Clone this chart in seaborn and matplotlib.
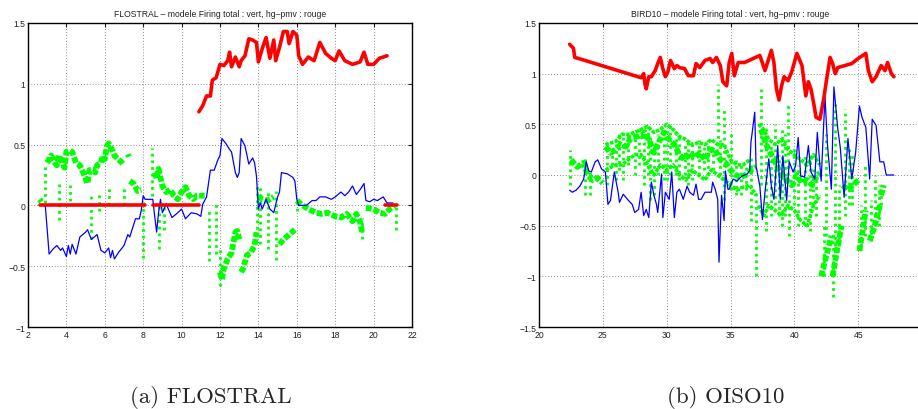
import numpy as np
import pandas as pd
import matplotlib
matplotlib.use("Agg")
import matplotlib.pyplot as plt
import seaborn as sns

nan = np.nan

# ---------------- Panel (a) FLOSTRAL ----------------
TITLE_A = "FLOSTRAL \u2013 modele Firing total : vert, hg\u2013pmv : rouge"
CAPTION_A = "(a) FLOSTRAL"
XTICKS_A = [2, 4, 6, 8, 10, 12, 14, 16, 18, 20, 22]
YTICKS_A = [-1, -0.5, 0, 0.5, 1, 1.5]

RED_A_X = [2.6, 8.1, nan, 8.5, 10.9, nan,
           10.9, 11.1, 11.3, 11.5, 11.6, 11.8, 12.0, 12.2, 12.4, 12.5, 12.6, 12.8,
           13.0, 13.1, 13.3, 13.5, 13.7, 13.9, 14.0, 14.2, 14.4, 14.6, 14.8, 14.9,
           15.1, 15.3, 15.5, 15.6, 15.8, 16.0, 16.1, 16.3, 16.6, 16.9, 17.2, 17.5,
           17.8, 18.0, 18.2, 18.5, 18.9, 19.3, 19.5, 19.7, 20.0, 20.3, 20.7, nan,
           20.6, 21.2]
RED_A_Y = [0.0, 0.0, nan, 0.0, 0.0, nan,
           0.77, 0.82, 0.90, 0.90, 1.03, 1.05, 1.16, 1.15, 1.19, 1.26, 1.14, 1.22,
           1.14, 1.19, 1.23, 1.37, 1.36, 1.34, 1.18, 1.29, 1.38, 1.21, 1.36, 1.19,
           1.30, 1.43, 1.43, 1.33, 1.43, 1.40, 1.23, 1.16, 1.22, 1.19, 1.34, 1.25,
           1.21, 1.19, 1.27, 1.19, 1.16, 1.18, 1.26, 1.16, 1.16, 1.21, 1.23, nan,
           0.0, 0.0]

BLUE_A_X = [2.6, 2.9, 3.1, 3.3, 3.5, 3.7, 3.8, 4.0, 4.1, 4.2, 4.3, 4.5, 4.7, 5.0,
            5.1, 5.3, 5.6, 5.8, 6.0, 6.2, 6.3, 6.4, 6.5, 6.7, 7.0, 7.2, 7.3, 7.6,
            7.8, 7.9, 8.0, 8.1, 8.5, 8.6, 8.7, 8.8, 8.9, 9.0, 9.2, 9.5, 9.8, 10.0,
            10.2, 10.5, 10.8, 11.0, 11.1, 11.3, 11.5, 11.7, 11.9, 12.0, 12.1, 12.3,
            12.5, 12.6, 12.8, 12.9, 13.0, 13.1, 13.3, 13.5, 13.7, 13.8, 13.9, 14.0,
            14.1, 14.2, 14.4, 14.6, 14.8, 15.0, 15.1, 15.2, 15.5, 15.8, 15.9, 16.0,
            16.1, 16.5, 16.8, 17.0, 17.2, 17.5, 17.8, 18.0, 18.3, 18.5, 18.7, 18.9,
            19.1, 19.3, 19.5, 19.6, 19.8, 20.0, 20.2, 20.5, 20.7, 21.0]
BLUE_A_Y = [0.0, 0.0, -0.40, -0.36, -0.33, -0.37, -0.35, -0.42, -0.33, -0.40,
            -0.32, -0.40, -0.26, -0.22, -0.20, -0.28, -0.24, -0.37, -0.39, -0.35,
            -0.43, -0.37, -0.44, -0.39, -0.33, -0.24, -0.26, -0.11, -0.11, -0.04,
            0.08, 0.05, 0.05, -0.09, -0.22, -0.06, 0.05, -0.06, 0.01, -0.10, -0.06,
            -0.03, -0.11, -0.06, -0.07, -0.09, 0.01, 0.07, 0.29, 0.29, 0.38, 0.41,
            0.55, 0.51, 0.46, 0.44, 0.27, 0.23, 0.27, 0.55, 0.49, 0.34, 0.39, 0.35,
            0.24, -0.03, 0.02, -0.03, 0.05, -0.03, -0.06, 0.07, 0.11, 0.27, 0.26,
            0.23, 0.20, 0.05, 0.00, 0.00, 0.04, 0.04, 0.07, 0.07, 0.05, 0.07, 0.11,
            0.08, 0.11, 0.16, 0.09, 0.13, 0.18, 0.04, 0.03, 0.05, 0.04, 0.07, 0.02,
            0.02]

GREEN_A_X = [2.6, 2.7, nan, 3.0, 3.2, 3.4, 3.5, 3.6, 3.8, 3.9, 4.0, 4.2, 4.3, 4.5,
             4.7, 4.9, 5.0, 5.1, 5.2, 5.4, 5.5, 5.6, 5.8, 5.9, 6.0, 6.1, 6.2, 6.4,
             6.5, 6.7, 6.9, 7.0, nan, 7.2, 7.25, nan, 7.3, 7.5, 7.7, 7.9, nan,
             8.6, 8.7, 8.8, 9.0, 9.2, 9.4, 9.6, 9.8, 10.0, 10.2, 10.4, 10.6, 10.8,
             11.0, 11.2, nan, 12.0, 12.1, 12.2, 12.4, 12.6, 12.8, 12.9, 13.0, nan,
             13.1, 13.2, 13.4, 13.6, 13.8, 13.9, nan, 14.0, 14.2, 14.4, 14.6, 14.8,
             nan, 15.1, 15.3, 15.6, 15.9, nan, 16.0, 16.3, 16.6, 17.0, 17.3, 17.6,
             18.0, 18.3, 18.6, 18.9, 19.1, 19.3, 19.4, nan, 19.6, 20.0, 20.3, 20.6,
             20.9, 21.1]
GREEN_A_Y = [0.05, 0.03, nan, 0.35, 0.41, 0.35, 0.33, 0.41, 0.35, 0.31, 0.44, 0.45,
             0.44, 0.35, 0.33, 0.26, 0.22, 0.18, 0.29, 0.29, 0.27, 0.33, 0.35, 0.41,
             0.38, 0.48, 0.51, 0.45, 0.41, 0.38, 0.35, 0.33, nan, 0.42, 0.40, nan,
             0.20, 0.18, 0.12, 0.13, nan,
             0.27, 0.22, 0.30, 0.16, 0.11, 0.13, 0.08, 0.05, 0.11, 0.15, 0.08, 0.05,
             0.08, 0.08, 0.08, nan, -0.55, -0.61, -0.52, -0.44, -0.39, -0.22, -0.21,
             -0.28, nan, -0.55, -0.52, -0.41, -0.39, -0.33, -0.22, nan, 0.08, 0.05,
             0.04, 0.05, 0.07, nan, -0.32, -0.28, -0.24, -0.20, nan, 0.04, 0.00,
             -0.03, -0.06, -0.07, -0.06, -0.09, -0.10, -0.07, -0.13, -0.07, -0.14,
             -0.22, nan, -0.02, -0.03, -0.06, -0.07, -0.02, 0.00]

# vertical streaks of green points: x, low, high
STREAK_A_X = [2.9, 3.6, 4.2, 5.3, 5.7, 6.2, 7.0, 8.0, 8.45, 8.8, 9.1, 11.45, 11.8,
              12.0, 13.95, 14.1, 14.5, 14.9, 16.0, 19.4, 21.15]
STREAK_A_LO = [0.02, -0.12, 0.04, -0.28, -0.05, 0.0, 0.0, -0.43, 0.08, -0.36, -0.2,
               -0.46, -0.4, -0.66, -0.25, -0.32, -0.36, -0.45, -0.05, -0.28, -0.2]
STREAK_A_HI = [0.33, 0.18, 0.17, 0.10, 0.10, 0.15, 0.16, 0.05, 0.47, 0.0, 0.0,
               -0.02, 0.02, -0.35, 0.15, 0.16, 0.12, 0.12, 0.06, -0.1, 0.0]

# ---------------- Panel (b) OISO10 ----------------
TITLE_B = "BIRD10 \u2013 modele Firing total : vert, hg\u2013pmv : rouge"
CAPTION_B = "(b) OISO10"
XTICKS_B = [20, 25, 30, 35, 40, 45, 50]
YTICKS_B = [-1.5, -1, -0.5, 0, 0.5, 1, 1.5]

RED_B_X = [22.4, 22.7, 22.8, 23.1, 28.0, 28.2, 28.3, 28.4, 28.6, 28.8, 29.1, 29.3,
           29.5, 29.7, 29.9, 30.1, 30.3, 30.6, 30.8, 31.0, 31.4, 31.7, 32.1, 32.3,
           32.6, 33.0, 33.4, 33.6, 33.9, 34.2, 34.4, 34.7, 34.9, 35.1, 35.3, 35.6,
           36.1, 37.3, 37.7, 38.2, 38.4, 38.6, 38.8, 39.0, 39.2, 39.5, 39.8, 40.2,
           40.6, 40.9, 41.1, 41.3, 41.5, 41.7, 42.0, 42.3, 42.5, 42.8, 43.0, 43.2,
           43.4, 44.5, 45.0, 45.6, 45.8, 46.1, 46.4, 46.8, 47.1, 47.3, 47.6, 47.8]
RED_B_Y = [1.29, 1.25, 1.16, 1.15, 0.96, 1.00, 0.90, 0.85, 0.97, 0.97, 1.03, 1.10,
           1.16, 1.05, 0.97, 1.02, 1.13, 1.05, 1.08, 1.06, 1.05, 0.98, 0.98, 1.10,
           1.06, 1.13, 1.15, 1.11, 1.16, 1.08, 0.92, 0.88, 1.11, 1.20, 0.98, 1.11,
           1.11, 1.18, 1.03, 1.23, 1.11, 0.85, 0.74, 0.88, 0.97, 0.93, 1.02, 1.20,
           1.08, 0.78, 0.92, 0.85, 0.72, 0.57, 0.55, 0.75, 0.92, 1.16, 1.10, 1.00,
           1.06, 1.10, 1.15, 1.20, 1.03, 0.92, 0.97, 1.08, 1.03, 1.11, 1.00, 0.97]

BLUE_B_X = [22.4, 22.6, 22.9, 23.2, 23.5, 23.7, 23.9, 24.1, 24.4, 24.6, 24.9, 25.2,
            25.4, 25.6, 25.9, 26.2, 26.3, 26.6, 27.0, 27.3, 27.5, 27.8, 28.0, 28.2,
            28.4, 28.6, 28.8, 29.0, 29.2, 29.3, 29.6, 29.7, 29.9, 30.2, 30.4, 30.6,
            30.8, 31.0, 31.3, 31.6, 31.8, 32.1, 32.3, 32.5, 32.7, 33.0, 33.5, 33.6,
            33.8, 34.0, 34.1, 34.3, 34.5, 34.6, 34.8, 34.9, 35.2, 35.5, 35.9, 36.3,
            36.5, 36.6, 36.9, 37.0, 37.3, 37.5, 37.7, 38.0, 38.2, 38.4, 38.7, 38.9,
            39.1, 39.4, 39.6, 39.9, 40.1, 40.3, 40.5, 40.8, 41.1, 41.3, 41.6, 41.8,
            42.1, 42.4, 42.6, 42.9, 43.1, 43.4, 43.6, 43.9, 44.2, 44.5, 44.8, 45.1,
            45.3, 45.6, 45.9, 46.1, 46.4, 46.7, 47.0, 47.2, 47.8]
BLUE_B_Y = [-0.15, -0.17, -0.15, -0.11, -0.04, 0.13, 0.04, 0.03, 0.13, 0.15, 0.06,
            0.03, -0.29, -0.25, 0.03, -0.17, -0.27, -0.19, -0.25, -0.29, -0.37,
            -0.34, -0.17, -0.40, -0.34, -0.42, -0.07, -0.20, -0.29, -0.37, 0.01,
            -0.42, -0.17, -0.24, 0.03, -0.42, -0.17, -0.14, -0.24, -0.11, -0.17,
            -0.20, -0.09, -0.24, -0.24, -0.17, -0.17, -0.07, -0.14, -0.24, -0.86,
            -0.20, -0.45, 0.04, -0.14, -0.14, -0.04, -0.06, -0.01, 0.01, 0.04, 0.32,
            0.62, 0.09, -0.11, -0.44, -0.17, 0.16, -0.11, -0.24, 0.29, -0.24, 0.19,
            -0.25, 0.13, 0.03, 0.09, 0.37, -0.01, -0.02, 0.29, 0.03, -0.04, 0.42,
            -0.06, 0.78, 0.29, -0.14, 0.87, 0.46, 0.27, -0.22, 0.36, -0.04, 0.22,
            0.68, 0.57, 0.47, -0.04, 0.55, 0.49, 0.13, 0.13, 0.00, 0.00]

GREEN_B_X = [22.5, 23.0, 23.5, 23.8, 24.2, 24.6, 25.0, nan, 25.2, 25.6, 26.0, 26.4,
             26.8, 27.2, 27.6, 28.0, 28.3, 28.7, 29.0, 29.4, 29.8, 30.2, 30.6, 31.0,
             31.4, 31.8, 32.2, 32.6, 33.0, 33.4, 33.8, 34.2, 34.6, 35.0, 35.4, 35.8,
             36.2, 36.6, 37.0, nan, 37.4, 37.8, 38.2, 38.6, 39.0, 39.4, 39.8, 40.2,
             40.6, 41.0, 41.4, 41.8, 42.0, nan, 42.1, 42.5, 42.9, nan, 43.0, 43.4,
             43.7, nan, 43.8, 44.2, 44.6, 45.0, nan, 45.1, 45.4, 45.6, nan, 45.9,
             46.3, 46.7, nan, 46.8, 47.0]
GREEN_B_Y = [0.15, 0.08, 0.12, 0.0, -0.05, -0.03, -0.08, nan, 0.28, 0.22, 0.25, 0.30,
             0.28, 0.37, 0.38, 0.38, 0.42, 0.32, 0.22, 0.33, 0.42, 0.35, 0.30, 0.20,
             0.15, 0.22, 0.17, 0.22, 0.15, 0.25, 0.25, 0.15, 0.12, 0.05, 0.00, -0.02,
             0.00, 0.05, 0.08, nan, 0.45, 0.30, 0.20, 0.10, 0.00, -0.05, -0.10, 0.00,
             -0.08, -0.05, -0.10, 0.00, 0.02, nan, -1.00, -0.80, -0.60, nan, -1.00,
             -0.70, -0.50, nan, -0.10, -0.15, -0.10, -0.05, nan, -0.75, -0.50, -0.35,
             nan, -0.65, -0.50, -0.30, nan, -0.20, -0.10]

# upper and lower edges of the green cloud in panel (b)
GREEN_B_UP_X = [25.2, 26.0, 26.5, 27.0, 27.5, 28.0, 28.5, 29.0, 29.5, 30.0, 30.5,
                31.0, 31.5, 32.0, 32.5, 33.0, 33.5, 34.0, 34.5, 35.0, 35.5, 36.0,
                36.5, nan, 37.2, 37.6, 38.0, 38.5, 39.0, 39.5, 40.0, 40.5, 41.0,
                41.5, 42.0]
GREEN_B_UP_Y = [0.30, 0.33, 0.40, 0.40, 0.42, 0.45, 0.48, 0.42, 0.45, 0.50, 0.45,
                0.38, 0.35, 0.30, 0.32, 0.30, 0.35, 0.30, 0.30, 0.15, 0.10, 0.10,
                0.15, nan, 0.50, 0.45, 0.35, 0.30, 0.35, 0.25, 0.20, 0.15, 0.10,
                0.20, 0.10]
GREEN_B_LO_X = [25.2, 26.0, 26.5, 27.0, 27.5, 28.0, 28.5, 29.0, 29.5, 30.0, 30.5,
                31.0, 31.5, 32.0, 32.5, 33.0, 33.5, 34.0, 34.5, 35.0, 35.5, 36.0,
                36.5, 37.0, nan, 37.2, 37.6, 38.0, 38.5, 39.0, 39.5, 40.0, 40.5,
                41.0, 41.5, 42.0]
GREEN_B_LO_Y = [0.05, 0.10, 0.10, 0.15, 0.20, 0.20, 0.10, 0.00, 0.10, 0.05, 0.10,
                0.00, -0.05, 0.05, 0.00, -0.05, 0.05, 0.00, -0.05, -0.10, -0.15,
                -0.12, -0.10, -0.20, nan, -0.30, -0.40, -0.30, -0.35, -0.40, -0.30,
                -0.35, -0.45, -0.50, -0.30, -0.20]

STREAK_B_X = [22.4, 23.6, 24.0, 25.3, 25.7, 26.0, 26.3, 26.6, 27.0, 27.5, 27.8, 28.2,
              28.5, 28.7, 29.0, 29.3, 29.8, 30.0, 30.3, 30.7, 31.0, 31.4, 31.7, 32.0,
              32.5, 32.9, 33.2, 33.6, 34.0, 34.2, 34.5, 35.0, 35.4, 35.8, 36.2, 36.6,
              37.0, 37.4, 37.8, 38.2, 38.5, 38.8, 39.0, 39.3, 39.5, 39.6, 40.0, 40.3,
              40.8, 41.2, 41.5, 41.7, 42.3, 42.5, 43.0, 43.2, 43.5, 44.0, 44.3, 44.5,
              45.2, 45.5, 46.0, 46.3, 46.6, 46.8]
STREAK_B_LO = [-0.10, -0.20, -0.20, -0.10, 0.10, -0.05, 0.05, -0.05, 0.10, 0.00, 0.10,
               -0.10, 0.00, -0.25, -0.20, 0.00, -0.05, -0.05, 0.00, 0.00, -0.05, 0.00,
               -0.10, -0.05, 0.00, 0.05, 0.00, 0.05, 0.30, 0.00, -0.25, -0.15, -0.20,
               -0.20, -0.15, -0.45, -1.00, -0.10, -0.55, -0.40, -0.30, -0.40, -0.50,
               -0.40, 0.00, -0.60, -0.30, -0.50, -0.50, -0.55, -0.30, -0.40, -1.00,
               -0.60, -1.20, -0.90, -0.70, -0.40, -0.30, -0.30, -0.70, -0.60, -0.65,
               -0.40, -0.50, -0.30]
STREAK_B_HI = [0.25, 0.20, 0.05, 0.30, 0.30, 0.35, 0.40, 0.38, 0.42, 0.40, 0.45, 0.45,
               0.48, 0.40, 0.20, 0.40, 0.45, 0.45, 0.50, 0.40, 0.40, 0.30, 0.35, 0.30,
               0.35, 0.30, 0.35, 0.30, 0.90, 0.35, 0.65, 0.40, 0.15, 0.10, 0.10, 0.20,
               -0.15, 0.85, 0.50, 0.30, 0.50, 0.20, 0.45, 0.40, 0.72, -0.20, 0.30,
               0.10, 0.20, 0.20, 0.10, 0.00, -0.50, 0.40, -0.55, 0.70, -0.10, 0.65,
               0.30, 0.20, -0.30, 0.10, -0.25, 0.00, -0.10, -0.15]

RED = "#ff0000"
BLUE = "#0000ff"
GREEN = "#00ff00"


def segments(xs, ys):
    x = np.asarray(xs, float)
    y = np.asarray(ys, float)
    seg = np.cumsum(np.isnan(x))
    df = pd.DataFrame({"x": x, "y": y, "seg": seg})
    return df.dropna()


def fmt(v):
    s = ("%g" % v)
    return s.replace("-", "\u2212")


sns.set_style("white")
plt.rcParams["font.family"] = ["Liberation Sans", "DejaVu Sans"]

fig = plt.figure(figsize=(9.18, 4.10), dpi=100)
axA = fig.add_axes([28 / 918, 1 - 328 / 410, 384 / 918, 304 / 410])
axB = fig.add_axes([539 / 918, 1 - 328 / 410, 383 / 918, 304 / 410])

panels = [
    (axA, TITLE_A, XTICKS_A, YTICKS_A, (2, 22), (-1, 1.5),
     [(GREEN_A_X, GREEN_A_Y, 4.2)],
     STREAK_A_X, STREAK_A_LO, STREAK_A_HI, BLUE_A_X, BLUE_A_Y, RED_A_X, RED_A_Y),
    (axB, TITLE_B, XTICKS_B, YTICKS_B, (20, 50), (-1.5, 1.5),
     [(GREEN_B_X, GREEN_B_Y, 4.2), (GREEN_B_UP_X, GREEN_B_UP_Y, 2.6),
      (GREEN_B_LO_X, GREEN_B_LO_Y, 2.6)],
     STREAK_B_X, STREAK_B_LO, STREAK_B_HI, BLUE_B_X, BLUE_B_Y, RED_B_X, RED_B_Y),
]

for (ax, title, xt, yt, xl, yl, greens, sx, slo, shi, bx, by, rx, ry) in panels:
    ax.set_xlim(*xl)
    ax.set_ylim(*yl)
    ax.set_xticks(xt)
    ax.set_yticks(yt)
    ax.set_xticklabels([fmt(v) for v in xt])
    ax.set_yticklabels([fmt(v) for v in yt])
    ax.grid(True, linestyle=(0, (1, 2.5)), color="#666666", linewidth=0.6)
    ax.set_axisbelow(True)

    # green "firing" points
    ax.vlines(sx, slo, shi, colors=GREEN, linestyles=(0, (1, 1.4)), linewidth=2.0,
              zorder=2)
    for gx, gy, lw in greens:
        gdf = segments(gx, gy)
        sns.lineplot(data=gdf, x="x", y="y", units="seg", estimator=None, sort=False,
                     color=GREEN, linewidth=lw, linestyle=(0, (1, 0.35)), ax=ax,
                     zorder=2, legend=False)
    # blue line
    bdf = segments(bx, by)
    sns.lineplot(data=bdf, x="x", y="y", units="seg", estimator=None, sort=False,
                 color=BLUE, linewidth=0.9, ax=ax, zorder=3, legend=False)
    # red line
    rdf = segments(rx, ry)
    sns.lineplot(data=rdf, x="x", y="y", units="seg", estimator=None, sort=False,
                 color=RED, linewidth=2.6, ax=ax, zorder=4, legend=False)

    ax.set_xlabel("")
    ax.set_ylabel("")
    ax.set_title(title, fontsize=6.2, pad=5, color="#222222")
    ax.tick_params(direction="in", length=3, width=0.8, labelsize=6.2,
                   colors="#222222", pad=2, top=True, right=True)
    for s in ax.spines.values():
        s.set_visible(True)
        s.set_color("black")
        s.set_linewidth(1.0)

fig.text(211 / 918, 1 - 398 / 410, CAPTION_A, ha="center", va="center",
         fontsize=16.5, family="cmr10")
fig.text(726 / 918, 1 - 398 / 410, CAPTION_B, ha="center", va="center",
         fontsize=16.5, family="cmr10")

fig.savefig("out.png", dpi=100)
